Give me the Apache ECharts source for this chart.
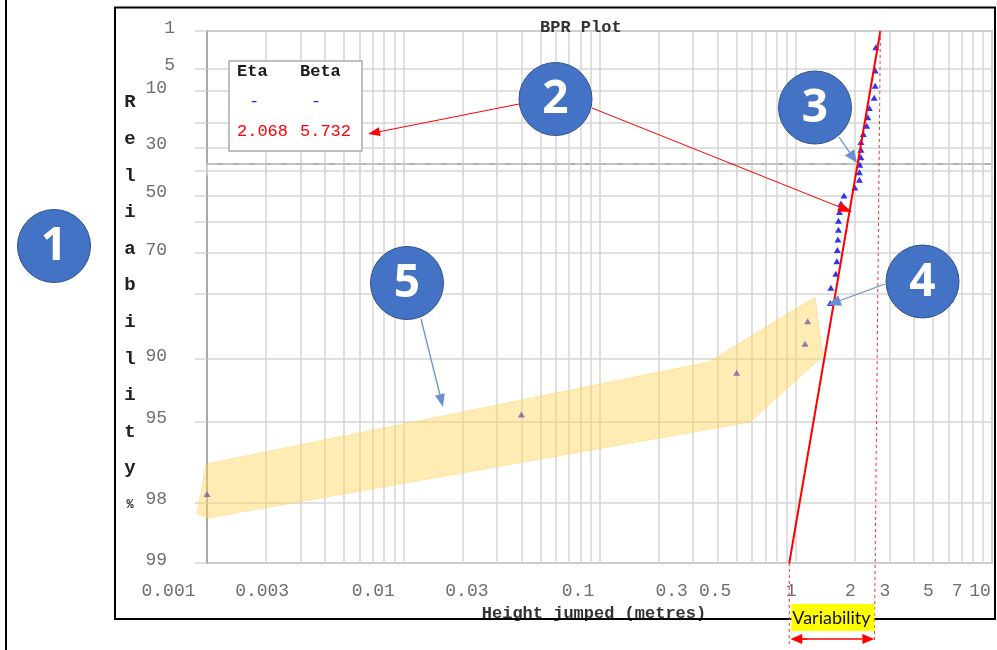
<!DOCTYPE html>
<html>
<head>
<meta charset="utf-8">
<title>BPR Plot</title>
<script src="https://cdn.jsdelivr.net/npm/echarts@6/dist/echarts.min.js"></script>
<style>
  html, body { margin: 0; padding: 0; background: #ffffff; }
  #chart { width: 997px; height: 650px; }
</style>
</head>
<body>
<div id="chart"></div>
<script>
// Weibull fit parameters
const ETA = 2.068;
const BETA = 5.732;

// Heights jumped (metres), ordered smallest to largest
const heights = [0.001, 0.04, 0.5, 1.115, 1.15, 1.50, 1.51, 1.60, 1.62, 1.63, 1.64,
                 1.65, 1.65, 1.67, 1.70, 1.76, 2.00, 2.11, 2.11, 2.12, 2.15,
                 2.15, 2.15, 2.21, 2.30, 2.33, 2.37, 2.51, 2.54, 2.54, 2.56];

// Plotted reliability (%) of each height
const reliability = [97.8, 94.6, 91.4, 88.2, 85.0, 81.8, 78.7, 75.5, 72.3, 69.1, 65.9,
                     62.7, 59.6, 56.4, 53.2, 50.0, 46.8, 43.6, 40.4, 37.3, 34.1,
                     30.9, 27.7, 24.5, 21.3, 18.2, 15.0, 11.8, 8.6, 5.4, 2.2];

// Reliability axis: gridlines and labelled values (%)
const yGridValues = [1, 5, 10, 20, 30, 40, 50, 60, 70, 80, 90, 95, 98, 99];
const yLabelValues = [1, 5, 10, 30, 50, 70, 90, 95, 98, 99];

// Height axis: labelled values
const xLabelText = ['0.001', '0.003', '0.01', '0.03', '0.1', '0.3', '0.5', '1', '2', '3', '5', '7', '10'];

// Log gridlines: 1..9 in every decade from 0.001 to 10
const xGridValues = [];
[0.001, 0.01, 0.1, 1].forEach(d => { for (let k = 1; k <= 9; k++) xGridValues.push(+(k * d).toPrecision(3)); });
xGridValues.push(10);

// Weibull probability-paper transform of reliability (%)
const W = r => Math.log(-Math.log(r / 100));
// Height where the fitted line reaches a given reliability (%)
const fitX = r => ETA * Math.pow(-Math.log(r / 100), 1 / BETA);

const MONO = '"Liberation Mono", "Courier New", monospace';
const GRID_C = '#d6d6d6';
const AXIS_C = '#9a9a9a';
const LABEL_C = '#6e6e6e';

const chart = echarts.init(document.getElementById('chart'), null, { renderer: 'canvas' });

const option = {
  animation: false,
  backgroundColor: '#ffffff',
  title: {
    text: 'BPR Plot',
    left: 535, top: 14,
    textStyle: { fontFamily: MONO, fontSize: 17, fontWeight: 'bold', color: '#333333' }
  },
  grid: {
    left: 207, right: 5, top: 31, bottom: 87,
    show: true, borderColor: AXIS_C, borderWidth: 1.5, backgroundColor: 'transparent'
  },
  xAxis: {
    type: 'log', logBase: 10, min: 0.001, max: 10,
    name: 'Height jumped (metres)',
    nameLocation: 'middle', nameGap: 38,
    nameTextStyle: { fontFamily: MONO, fontSize: 17, fontWeight: 'bold', color: '#333333', padding: [0, 11, 0, 0] },
    axisLine: { show: true, lineStyle: { color: AXIS_C, width: 1.5 } },
    axisTick: { show: true, customValues: xGridValues, length: 12, lineStyle: { color: GRID_C, width: 1.5 } },
    splitLine: { show: true, lineStyle: { color: GRID_C, width: 1.5 } },
    minorTick: { show: false },
    axisLabel: {
      customValues: xLabelText.map(Number),
      margin: 19,
      fontFamily: MONO, fontSize: 18, color: LABEL_C,
      formatter: v => {
        const t = xLabelText.find(s => Math.abs(Math.log10(+s) - Math.log10(v)) < 1e-6) || String(v);
        return '{p' + t.length + '|' + t + '}';
      },
      rich: {
        p1: { padding: [0, 9, 0, 0] },
        p2: { padding: [0, 24, 0, 0] },
        p3: { padding: [0, 43, 0, 0] },
        p4: { padding: [0, 60, 0, 0] },
        p5: { padding: [0, 77, 0, 0] }
      }
    }
  },
  yAxis: {
    type: 'value', min: W(99), max: W(1),
    name: 'R\ne\nl\ni\na\nb\ni\nl\ni\nt\ny\n{pc|%}',
    nameLocation: 'middle', nameRotate: 0, nameGap: 77,
    nameTextStyle: {
      fontFamily: MONO, fontSize: 19, fontWeight: 'bold', color: '#222222',
      lineHeight: 36.6, padding: [14, 0, 0, 0], align: 'center',
      rich: { pc: { fontSize: 12, lineHeight: 36.6, fontFamily: MONO, fontWeight: 'bold', color: '#222222' } }
    },
    axisLine: { show: true, lineStyle: { color: AXIS_C, width: 1.5 } },
    axisTick: { show: true, customValues: yGridValues.map(W), length: 12, lineStyle: { color: GRID_C, width: 1.5 } },
    splitLine: { show: true, lineStyle: { color: GRID_C, width: 1.5 } },
    axisLabel: {
      customValues: yLabelValues.map(W),
      margin: 32,
      fontFamily: MONO, fontSize: 18, color: LABEL_C,
      formatter: v => {
        const r = Math.round(100 * Math.exp(-Math.exp(v)));
        const t = String(r);
        return (t.length > 1 ? '{b|' : '{a|') + t + '}';
      },
      rich: {
        a: { padding: [0, 0, 6, 0] },
        b: { padding: [0, 8, 6, 0] }
      }
    }
  },
  series: [
    {
      name: 'Data',
      type: 'scatter',
      data: heights.map((h, i) => [h, W(reliability[i])]),
      symbol: 'triangle',
      symbolSize: [7, 6],
      itemStyle: { color: '#0000ee' },
      z: 3
    },
    {
      name: 'Fit',
      type: 'line',
      data: [[fitX(99), W(99)], [fitX(1), W(1)]],
      symbol: 'none',
      lineStyle: { color: '#ff0000', width: 2 },
      z: 4,
      markLine: {
        silent: true,
        symbol: 'none',
        label: { show: false },
        lineStyle: { color: '#c4c4c4', type: [10, 6], width: 2 },
        data: [{ yAxis: 0 }]   // characteristic life, R = 1/e
      }
    }
  ]
};

chart.setOption(option);

// ---- call-outs and annotations ----
const pLow = chart.convertToPixel({ gridIndex: 0 }, [fitX(99), W(99)]);
const pHigh = chart.convertToPixel({ gridIndex: 0 }, [fitX(1), W(1)]);

function arrow(x1, y1, x2, y2, color, w, hl, hw) {
  const a = Math.atan2(y2 - y1, x2 - x1);
  const bx = x2 - hl * Math.cos(a), by = y2 - hl * Math.sin(a);
  const nx = -Math.sin(a) * hw / 2, ny = Math.cos(a) * hw / 2;
  return [
    { type: 'line', z: 100, silent: true, shape: { x1: x1, y1: y1, x2: bx, y2: by }, style: { stroke: color, lineWidth: w } },
    { type: 'polygon', z: 100, silent: true, shape: { points: [[x2, y2], [bx + nx, by + ny], [bx - nx, by - ny]] }, style: { fill: color } }
  ];
}

function badge(cx, cy, n) {
  return [
    { type: 'circle', z: 110, silent: true, shape: { cx: cx, cy: cy, r: 36.5 }, style: { fill: '#4472c4', stroke: '#2f528f', lineWidth: 1 } },
    { type: 'text', z: 111, silent: true, x: cx, y: cy + 1,
      style: { text: String(n), fill: '#ffffff', fontFamily: '"Open Sans", sans-serif', fontWeight: 'bold', fontSize: 46, align: 'center', verticalAlign: 'middle' } }
  ];
}

function txt(x, y, s, color, bold) {
  return { type: 'text', z: 91, silent: true, x: x, y: y,
    style: { text: s, fill: color, fontFamily: MONO, fontSize: 17, fontWeight: bold ? 'bold' : 'normal', align: 'left', verticalAlign: 'middle' } };
}

const BLUE_ARROW = '#6a8fd4';
const rightX = pHigh[0];
const rightXLow = pHigh[0] - 6;

const elements = [].concat(
  // outer frames
  [{ type: 'rect', z: 80, silent: true, shape: { x: 115, y: 7.5, width: 880, height: 611.5 }, style: { fill: 'none', stroke: '#000000', lineWidth: 2 } },
   { type: 'line', z: 80, silent: true, shape: { x1: 6, y1: 0, x2: 6, y2: 650 }, style: { stroke: '#000000', lineWidth: 2 } }],
  // highlighted low-value region
  [{ type: 'polygon', z: 60, silent: true,
     shape: { points: [[197, 514], [206, 464], [709, 362], [815, 297], [823, 356], [750, 422], [208, 518]] },
     style: { fill: 'rgba(255, 212, 88, 0.45)', stroke: 'rgba(255, 200, 60, 0.35)', lineWidth: 1 } }],
  // parameter box
  [{ type: 'rect', z: 90, silent: true, shape: { x: 229, y: 61, width: 133, height: 90 }, style: { fill: '#ffffff', stroke: '#aaaaaa', lineWidth: 1.5 } },
   txt(237, 72, 'Eta', '#1a1a1a', true),
   txt(300, 72, 'Beta', '#1a1a1a', true),
   txt(249, 101, '-', '#2020ff', false),
   txt(311, 101, '-', '#2020ff', false),
   txt(237, 131, ETA.toFixed(3), '#ff0000', false),
   txt(300, 131, BETA.toFixed(3), '#ff0000', false)],
  // variability range
  [{ type: 'line', z: 95, silent: true, shape: { x1: pLow[0], y1: pLow[1], x2: pLow[0], y2: 644 }, style: { stroke: '#ff3030', lineWidth: 1, lineDash: [3, 3] } },
   { type: 'line', z: 95, silent: true, shape: { x1: rightX, y1: pHigh[1], x2: rightXLow, y2: 641 }, style: { stroke: '#ff3030', lineWidth: 1, lineDash: [3, 3] } },
   { type: 'rect', z: 96, silent: true, shape: { x: pLow[0] + 2, y: 604, width: rightXLow - pLow[0] - 2, height: 27 }, style: { fill: '#ffff00' } },
   { type: 'text', z: 97, silent: true, x: pLow[0] + 3, y: 618,
     style: { text: 'Variability', fill: '#111111', fontFamily: 'Lato, "Open Sans", sans-serif', fontSize: 18, align: 'left', verticalAlign: 'middle' } }],
  arrow(pLow[0] + 18, 639, pLow[0] + 1, 639, '#ff0000', 1.5, 12, 10),
  arrow(pLow[0] + 10, 639, rightXLow, 639, '#ff0000', 1.5, 12, 10),
  // red pointers from badge 2
  arrow(519, 104, 368, 134, '#ff0000', 1, 12, 9),
  arrow(592, 108, 852, 212, '#ff0000', 1, 14, 10),
  // blue pointers
  arrow(839, 137, 857, 163, BLUE_ARROW, 1.3, 13, 11),
  arrow(885, 284, 828, 305, BLUE_ARROW, 1.3, 13, 11),
  arrow(421, 319, 443, 407, BLUE_ARROW, 1.3, 13, 10),
  // numbered badges
  badge(54, 246, 1),
  badge(555.5, 99, 2),
  badge(815, 107.5, 3),
  badge(922.5, 281.5, 4),
  badge(407, 283, 5)
);

chart.setOption({ graphic: { elements: elements } });
</script>
</body>
</html>
